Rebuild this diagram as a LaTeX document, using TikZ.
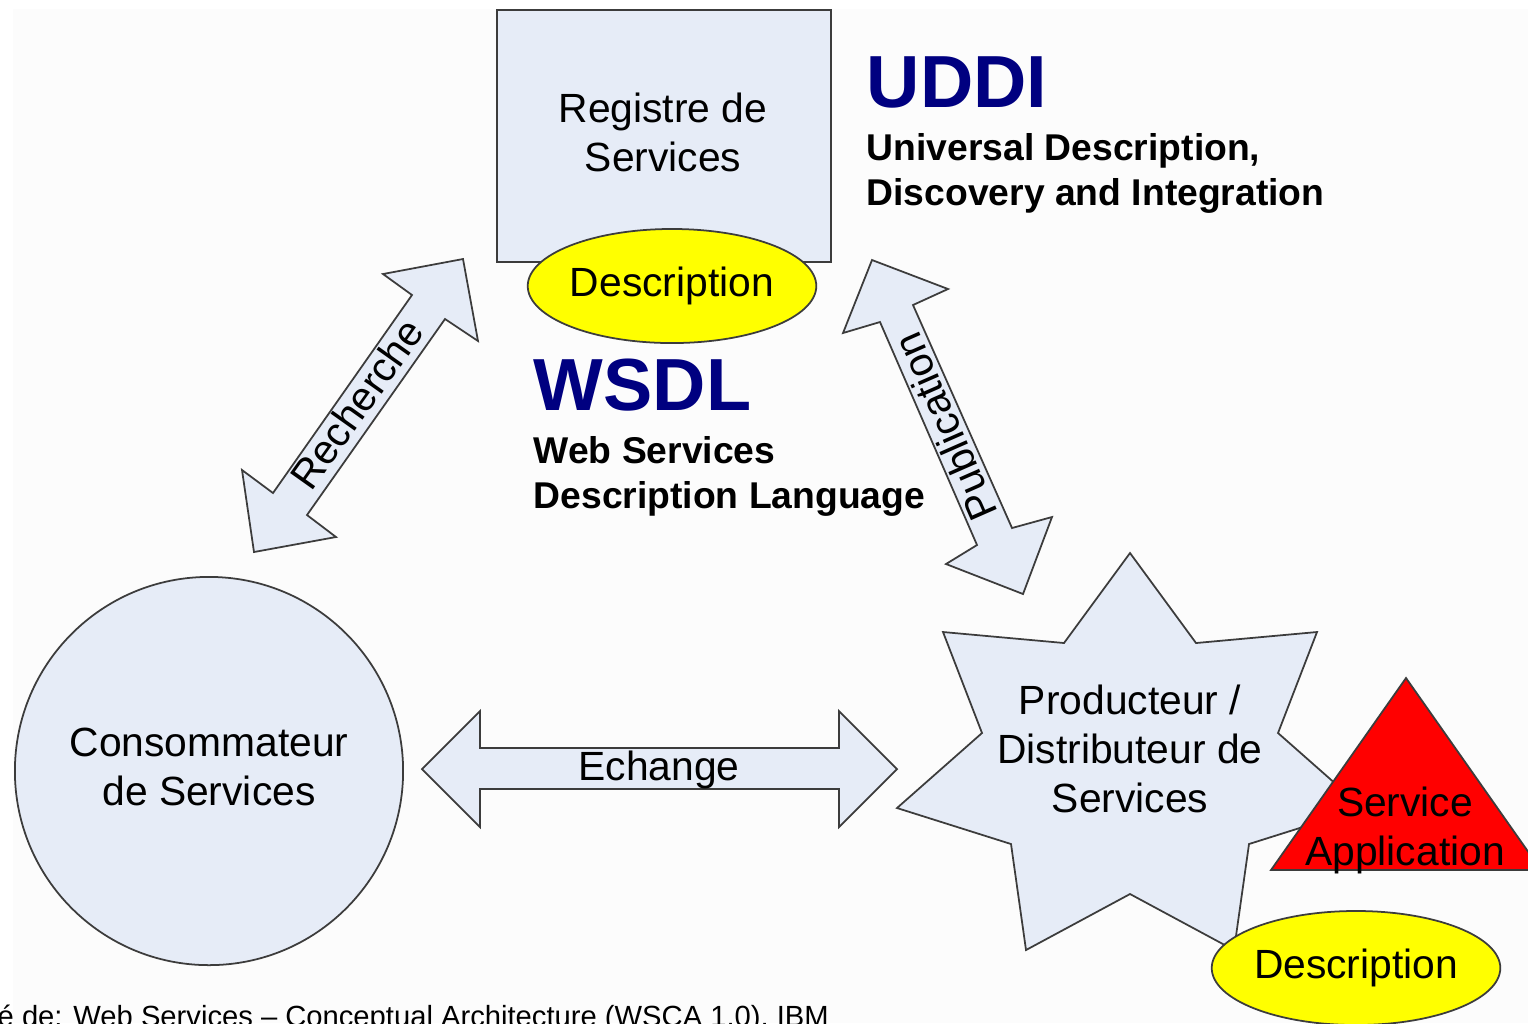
\documentclass[tikz,border=0pt]{standalone}
\usepackage{fontspec}
\setmainfont{Liberation Sans}
\usetikzlibrary{shapes.geometric}
\definecolor{paleblue}{RGB}{230,236,247}
\definecolor{outl}{RGB}{60,60,60}
\definecolor{navyb}{RGB}{0,0,128}
\definecolor{bgc}{RGB}{252,252,252}
\definecolor{yel}{RGB}{255,255,0}
\definecolor{redf}{RGB}{255,0,0}
\begin{document}
\begin{tikzpicture}[x=0.01cm,y=-0.01cm,
  shapeline/.style={draw=outl, line width=0.5pt},
  bluefill/.style={shapeline, fill=paleblue},
  lbl/.style={font=\fontsize{11.6}{13.9}\selectfont, align=center, inner sep=0pt},
  descr/.style={ellipse, shapeline, fill=yel, minimum width=2.84cm, minimum height=1.14cm, inner sep=0pt, font=\fontsize{11.6}{13.9}\selectfont},
  bigtitle/.style={font=\fontsize{21}{25}\selectfont\bfseries, text=navyb, inner sep=0pt, anchor=base west},
  subtitle/.style={font=\fontsize{10.6}{12.8}\selectfont\bfseries, inner sep=0pt, anchor=base west},
]
\useasboundingbox (0,0) rectangle (1528,1023);
\clip (0,0) rectangle (1528,1023);
\fill[white] (0,0) rectangle (1528,1023);
\fill[bgc] (13,9) rectangle (1528,1023);

% Registry
\draw[bluefill] (497,10) rectangle (831,262);
\node[lbl] (registre) at (663,132) {Registre de\\Services};
\node[descr] (descTop) at (672,286) {Description};

% UDDI
\node[bigtitle] (uddi) at (866,107) {UDDI};
\node[subtitle] (uddiA) at (866,160) {Universal Description,};
\node[subtitle] (uddiB) at (866,205) {Discovery and Integration};

% WSDL
\node[bigtitle] (wsdl) at (533,410) {WSDL};
\node[subtitle] (wsdlA) at (533,463) {Web Services};
\node[subtitle] (wsdlB) at (533,508) {Description Language};

% Recherche arrow
\draw[bluefill] (463,259) -- (478,341) -- (445,319) -- (307,515) -- (336,537) -- (254,552)
  -- (242,470) -- (273,493) -- (412,295) -- (383,274) -- cycle;
\node[lbl, rotate=54.6] (recherche) at (357,404) {Recherche};

% Publication arrow
\draw[bluefill] (872,260) -- (948,289) -- (913,305) -- (1012,528) -- (1052,517) -- (1023,594)
  -- (946,564) -- (977,545) -- (880,322) -- (843,333) -- cycle;
\node[lbl, rotate=113.7] (publication) at (945,427) {Publication};

% Consumer
\node[circle, bluefill, minimum size=3.88cm, inner sep=0pt, lbl] (conso) at (209,771) {Consommateur\\de Services\vphantom{Q}};

% Echange arrow
\draw[bluefill] (422,769) -- (480,711) -- (480,748) -- (839,748) -- (839,711) -- (897,769)
  -- (839,827) -- (839,789) -- (480,789) -- (480,827) -- cycle;
\node[lbl] (echange) at (659,770) {Echange};

% Producer star
\draw[bluefill] (1130,553) -- (1064,643) -- (943,632) -- (982,733) -- (897,808) -- (1011,844)
  -- (1026,950) -- (1130,894) -- (1234,950) -- (1249,844) -- (1363,808) -- (1278,733)
  -- (1317,632) -- (1196,643) -- cycle;
\node[lbl] (prod) at (1130,749) {Producteur /\\Distributeur de\\Services};

% Service application triangle
\draw[shapeline, fill=redf] (1406,678) -- (1271,870) -- (1541,870) -- cycle;
\node[lbl] (app) at (1405,830) {Service\\Application};

% Bottom description
\node[descr] (descBot) at (1356,968) {Description};

% Source
\node[font=\fontsize{8.3}{10}\selectfont, anchor=base west, inner sep=0pt] (source) at (-3,1026) {é de: Web Services – Conceptual Architecture (WSCA 1.0), IBM};
\end{tikzpicture}
\end{document}
